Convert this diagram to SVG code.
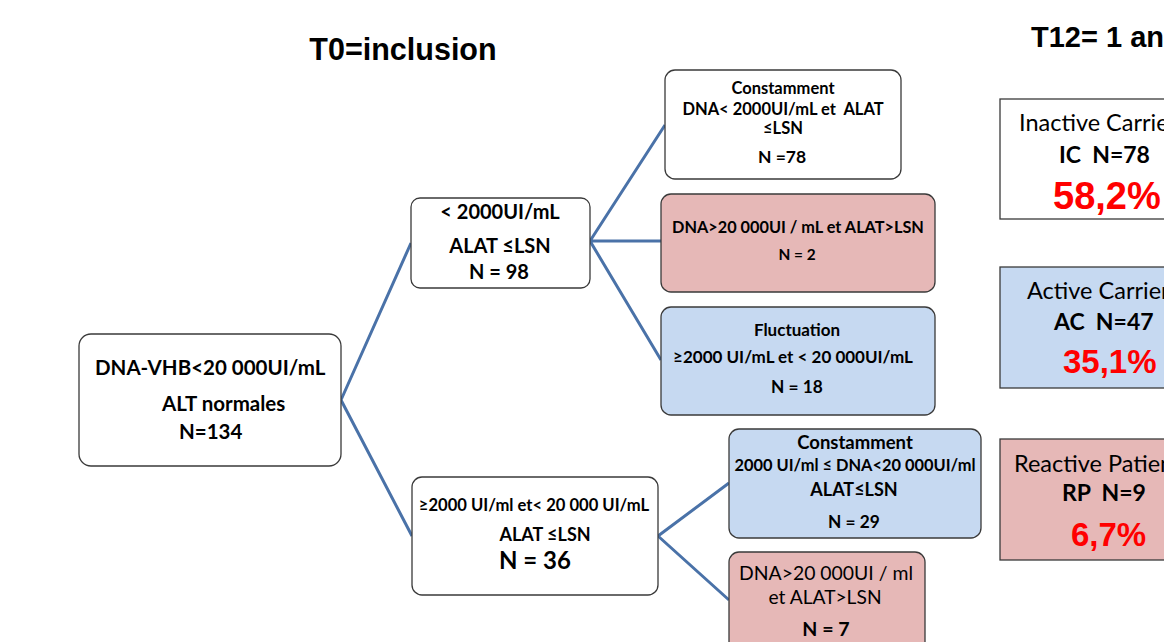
<svg xmlns="http://www.w3.org/2000/svg" width="1164" height="642" viewBox="0 0 1164 642">
<style>
.bx{stroke:#3a3a3a;stroke-width:1.3}
.w{fill:#ffffff}.p{fill:#e6b8b7}.b{fill:#c6d9f1}
.t{font-family:Lato,"Open Sans",sans-serif;fill:#000;text-anchor:middle;white-space:pre}
.bd{font-weight:bold}
.h{font-family:"Liberation Sans",Arial,sans-serif;font-weight:bold;fill:#000}
.pc{font-family:"Liberation Sans",Arial,sans-serif;font-weight:bold;fill:#ff0000}
.r{font-family:Lato,"Open Sans",sans-serif;fill:#000;white-space:pre}
.c{stroke:#4a72a8;stroke-width:3;fill:none}
</style>
<rect width="1164" height="642" fill="#ffffff"/>
<text class="h" x="403" y="60" font-size="30.5" text-anchor="middle">T0=inclusion</text>
<text class="h" x="1031" y="47" font-size="29">T12= 1 an</text>
<g id="connectors">
<path class="c" d="M341,400 L411,243 M341,400 L412,536 M590,241 L665,125 M590,241 L661,241 M590,241 L661,360 M658,536 L729,483 M658,536 L729,600"/>
</g>
<g id="root">
<rect class="bx w" x="79" y="334" width="262" height="132" rx="12"/>
<text class="r bd" font-size="20.5" x="95" y="375">DNA-VHB&lt;20 000UI/mL</text>
<text class="r bd" font-size="20.5" x="162" y="411">ALT normales</text>
<text class="r bd" font-size="20.5" x="179" y="439">N=134</text>
</g>
<g id="nodeA">
<rect class="bx w" x="411" y="198" width="179" height="90" rx="9"/>
<text class="t bd" font-size="20" x="500" y="219">&lt; 2000UI/mL</text>
<text class="t bd" font-size="20" x="500" y="253">ALAT ≤LSN</text>
<text class="t bd" font-size="20" x="499" y="279">N = 98</text>
</g>
<g id="nodeB">
<rect class="bx w" x="412" y="477" width="246" height="118" rx="10"/>
<text class="t bd" font-size="16.6" x="534" y="511">≥2000 UI/ml et&lt; 20 000 UI/mL</text>
<text class="t bd" font-size="18" x="545" y="541">ALAT ≤LSN</text>
<text class="t bd" font-size="24" x="535" y="569">N = 36</text>
</g>
<g id="c1">
<rect class="bx w" x="665" y="70" width="236" height="109" rx="10"/>
<text class="t bd" font-size="16.5" x="783" y="94">Constamment</text>
<text class="t bd" font-size="16.5" x="783" y="115">DNA&lt; 2000UI/mL et  ALAT</text>
<text class="t bd" font-size="16.5" x="783" y="134">≤LSN</text>
<text class="t bd" font-size="17.5" x="782" y="163">N =78</text>
</g>
<g id="c2">
<rect class="bx p" x="661" y="194" width="274" height="98" rx="10"/>
<text class="t bd" font-size="16.3" x="798" y="233">DNA&gt;20 000UI / mL et ALAT&gt;LSN</text>
<text class="t bd" font-size="15.4" x="797" y="260">N = 2</text>
</g>
<g id="c3">
<rect class="bx b" x="661" y="307" width="274" height="108" rx="10"/>
<text class="t bd" font-size="17" x="797" y="336">Fluctuation</text>
<text class="t bd" font-size="17" x="793" y="363">≥2000 UI/mL et &lt; 20 000UI/mL</text>
<text class="t bd" font-size="17.3" x="797" y="393">N = 18</text>
</g>
<g id="d1">
<rect class="bx b" x="729" y="429" width="252" height="109" rx="10"/>
<text class="t bd" font-size="18.5" x="855" y="449">Constamment</text>
<text class="t bd" font-size="16.4" x="855" y="471">2000 UI/ml ≤ DNA&lt;20 000UI/ml</text>
<text class="t bd" font-size="18" x="854" y="496">ALAT≤LSN</text>
<text class="t bd" font-size="17.3" x="854" y="528">N = 29</text>
</g>
<g id="d2">
<rect class="bx p" x="729" y="552" width="196" height="100" rx="10"/>
<text class="t" font-size="19.4" x="826" y="580">DNA&gt;20 000UI / ml</text>
<text class="t" font-size="19.2" x="825" y="604">et ALAT&gt;LSN</text>
<text class="t bd" font-size="19.6" x="826" y="636">N = 7</text>
</g>
<g id="r1">
<rect class="bx w" x="1000" y="99" width="200" height="120"/>
<text class="r" font-size="23.5" x="1019" y="131">Inactive Carriers</text>
<text class="r bd" font-size="23" x="1059" y="163">IC  N=78</text>
<text class="pc" font-size="38" x="1053" y="209">58,2%</text>
</g>
<g id="r2">
<rect class="bx b" x="1000" y="267" width="200" height="121"/>
<text class="r" font-size="23.5" x="1027" y="299">Active Carriers</text>
<text class="r bd" font-size="23" x="1054" y="330">AC  N=47</text>
<text class="pc" font-size="33" x="1063" y="373">35,1%</text>
</g>
<g id="r3">
<rect class="bx p" x="1000" y="439" width="200" height="121"/>
<text class="r" font-size="23.5" x="1014" y="472">Reactive Patients</text>
<text class="r bd" font-size="23" x="1062" y="501">RP  N=9</text>
<text class="pc" font-size="33" x="1071" y="546">6,7%</text>
</g>
</svg>
